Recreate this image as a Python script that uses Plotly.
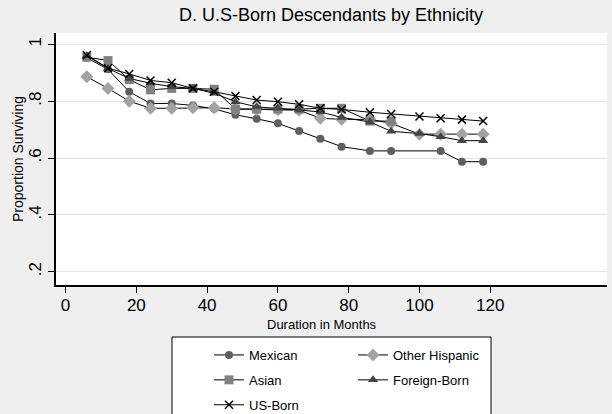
import plotly.graph_objects as go

# ---- data ----
months_mex = [6, 12, 18, 24, 30, 36, 42, 48, 54, 60, 66, 72, 78, 86, 92, 106, 112, 118]
mexican = [0.953, 0.912, 0.833, 0.792, 0.792, 0.785, 0.773, 0.752, 0.738, 0.722, 0.695, 0.668, 0.640, 0.625, 0.625, 0.625, 0.587, 0.587]

months_oth = [6, 12, 18, 24, 30, 36, 42, 48, 54, 60, 66, 72, 78, 86, 92, 100, 106, 112, 118]
other_hispanic = [0.886, 0.845, 0.800, 0.775, 0.775, 0.777, 0.777, 0.773, 0.771, 0.770, 0.768, 0.740, 0.736, 0.736, 0.722, 0.684, 0.684, 0.684, 0.684]

months_asi = [6, 12, 18, 24, 30, 36, 42, 48, 54, 60, 66, 72, 78, 86, 92]
asian = [0.955, 0.943, 0.876, 0.840, 0.845, 0.845, 0.842, 0.772, 0.772, 0.772, 0.772, 0.775, 0.775, 0.730, 0.730]

months_fb = [6, 12, 18, 24, 30, 36, 42, 48, 54, 60, 66, 72, 78, 86, 92, 100, 106, 112, 118]
foreign_born = [0.960, 0.915, 0.880, 0.863, 0.851, 0.845, 0.828, 0.798, 0.780, 0.775, 0.769, 0.762, 0.743, 0.727, 0.694, 0.686, 0.675, 0.661, 0.661]

months_us = [6, 12, 18, 24, 30, 36, 42, 48, 54, 60, 66, 72, 78, 86, 92, 100, 106, 112, 118]
us_born = [0.962, 0.916, 0.896, 0.873, 0.865, 0.845, 0.833, 0.818, 0.804, 0.798, 0.789, 0.775, 0.771, 0.761, 0.755, 0.746, 0.740, 0.735, 0.730]

y_ticks = [0.2, 0.4, 0.6, 0.8, 1.0]
y_tick_labels = [".2", ".4", ".6", ".8", "1"]
x_ticks = [0, 20, 40, 60, 80, 100, 120]

FONT = "Arial, Liberation Sans, Helvetica, sans-serif"
BG = "#efefef"

series = [
    ("Mexican", months_mex, mexican, "circle", "#5f5f5f", 8, "legend"),
    ("Other Hispanic", months_oth, other_hispanic, "diamond", "#a3a3a3", 10, "legend2"),
    ("Asian", months_asi, asian, "square", "#818181", 9, "legend"),
    ("Foreign-Born", months_fb, foreign_born, "triangle-up", "#454545", 9, "legend2"),
    ("US-Born", months_us, us_born, "x-thin-open", "#000000", 8, "legend"),
]

fig = go.Figure()
for name, xs, ys, sym, col, sz, lg in series:
    fig.add_trace(go.Scatter(
        x=xs, y=ys, name=name, mode="lines+markers", legendgroup=name,
        line=dict(color="#000000", width=1),
        marker=dict(symbol=sym, color=col, size=sz,
                    line=dict(color=col, width=1.5 if sym == "x-thin-open" else 0)),
        legend=lg,
    ))

W, H = 612, 414
ml, mr, mt, mb = 56, 5, 33, 129
pw, ph = W - ml - mr, H - mt - mb

def px_x(p):
    return (p - ml) / pw

def px_y(p):
    return (H - mb - p) / ph

leg_common = dict(xanchor="left", yanchor="top", bgcolor="rgba(0,0,0,0)", borderwidth=0,
                  font=dict(size=13, family=FONT), tracegroupgap=5, itemwidth=30)

fig.update_layout(
    width=W, height=H,
    margin=dict(l=ml, r=mr, t=mt, b=mb, autoexpand=False),
    paper_bgcolor=BG,
    plot_bgcolor="#ffffff",
    font=dict(family=FONT, color="#000000", size=14),
    title=dict(text="D. U.S-Born Descendants by Ethnicity", x=331 / W, xanchor="center",
               y=1 - 15 / H, yanchor="middle", font=dict(size=18, family=FONT)),
    showlegend=True,
    legend=dict(x=px_x(209), y=px_y(340), **leg_common),
    legend2=dict(x=px_x(353), y=px_y(340), **leg_common),
    xaxis=dict(range=[-2.7, 153], tickmode="array", tickvals=x_ticks, automargin=False,
               showgrid=False, zeroline=False, showline=True, linecolor="#000000", linewidth=1.5,
               ticks="outside", ticklen=6, tickcolor="#000000", tickfont=dict(size=17),
               ticklabelstandoff=-2),
    yaxis=dict(range=[0.153, 1.04], tickmode="array", tickvals=y_ticks, ticktext=y_tick_labels,
               automargin=False, tickangle=-90, showgrid=True, gridcolor="#e4e4e4", gridwidth=1,
               zeroline=False, showline=True, linecolor="#000000", linewidth=1.5,
               ticks="outside", ticklen=6, tickcolor="#000000", tickfont=dict(size=17),
               title=dict(text="Proportion Surviving", font=dict(size=14), standoff=0)),
    shapes=[dict(type="rect", xref="paper", yref="paper",
                 x0=px_x(172), x1=px_x(491), y0=px_y(420), y1=px_y(337),
                 line=dict(color="#000000", width=1), fillcolor="#ffffff", layer="below")],
    annotations=[dict(text="Duration in Months", xref="paper", yref="paper",
                      x=px_x(322), y=px_y(324), xanchor="center", yanchor="middle",
                      showarrow=False, font=dict(size=13, family=FONT))],
)

fig.write_html(
    "out.html",
    config={"displayModeBar": False},
    post_script="document.body.style.margin='0';document.body.style.background='%s';" % BG,
)
